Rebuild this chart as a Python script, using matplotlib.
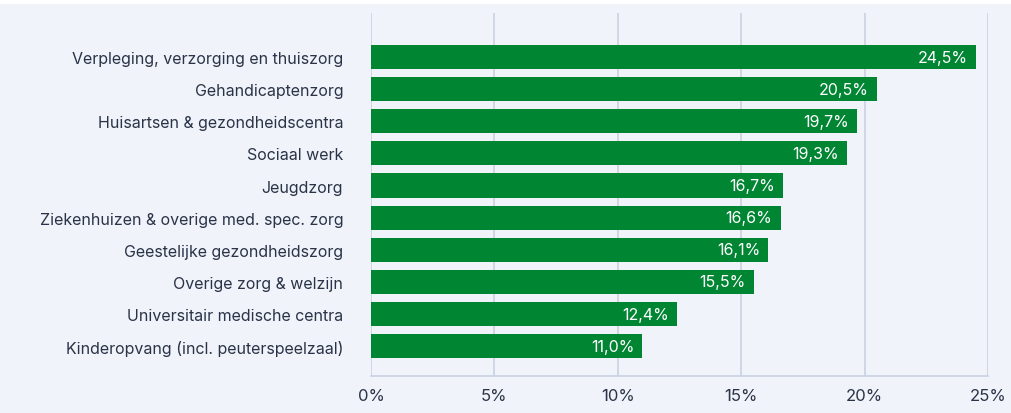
import matplotlib
matplotlib.use("Agg")
import matplotlib.pyplot as plt
from matplotlib.patches import Rectangle
from matplotlib.ticker import FuncFormatter

categories = [
    "Verpleging, verzorging en thuiszorg",
    "Gehandicaptenzorg",
    "Huisartsen & gezondheidscentra",
    "Sociaal werk",
    "Jeugdzorg",
    "Ziekenhuizen & overige med. spec. zorg",
    "Geestelijke gezondheidszorg",
    "Overige zorg & welzijn",
    "Universitair medische centra",
    "Kinderopvang (incl. peuterspeelzaal)",
]
values = [24.5, 20.5, 19.7, 19.3, 16.7, 16.6, 16.1, 15.5, 12.4, 11.0]
xticks = [0, 5, 10, 15, 20, 25]

BG = "#f0f3f9"
GREEN = "#008533"
TEXT = "#2a3347"
GRID = "#c9d1e3"

plt.rcParams["font.family"] = ["Inter", "DejaVu Sans"]

fig = plt.figure(figsize=(10.11, 4.14), dpi=100, facecolor="white")
fig.patches.append(Rectangle((0, 0), 1, 1 - 5 / 414, transform=fig.transFigure,
                             facecolor=BG, edgecolor="none", zorder=-10))
ax = fig.add_axes([371 / 1011, 1 - 377 / 414, (988 - 371) / 1011, (377 - 14) / 414])
ax.set_facecolor(BG)

ypos = list(range(len(categories)))
bars = ax.barh(ypos, values, height=0.75, color=GREEN, zorder=3)
for y, v in zip(ypos, values):
    ax.annotate(f"{v:.1f}%".replace(".", ","), xy=(v, y), xytext=(-6, 0),
                textcoords="offset points", ha="right", va="center",
                color="white", fontsize=11.5, zorder=4)

ax.set_xlim(0, 25)
ax.set_ylim(9 + 0.93, -1.37)
ax.set_xticks(xticks)
ax.xaxis.set_major_formatter(FuncFormatter(lambda x, p: f"{x:.0f}%"))
ax.set_yticks(ypos)
ax.set_yticklabels(categories)
ax.tick_params(axis="y", length=0, pad=20, labelsize=11.5, labelcolor=TEXT)
ax.tick_params(axis="x", length=0, pad=9, labelsize=12, labelcolor=TEXT)
ax.grid(axis="x", color=GRID, linewidth=1.2, zorder=0)
for s in ["top", "right", "left"]:
    ax.spines[s].set_visible(False)
ax.spines["bottom"].set_color(GRID)
ax.spines["bottom"].set_linewidth(1.2)

fig.savefig("out.png", dpi=100, facecolor="white")
